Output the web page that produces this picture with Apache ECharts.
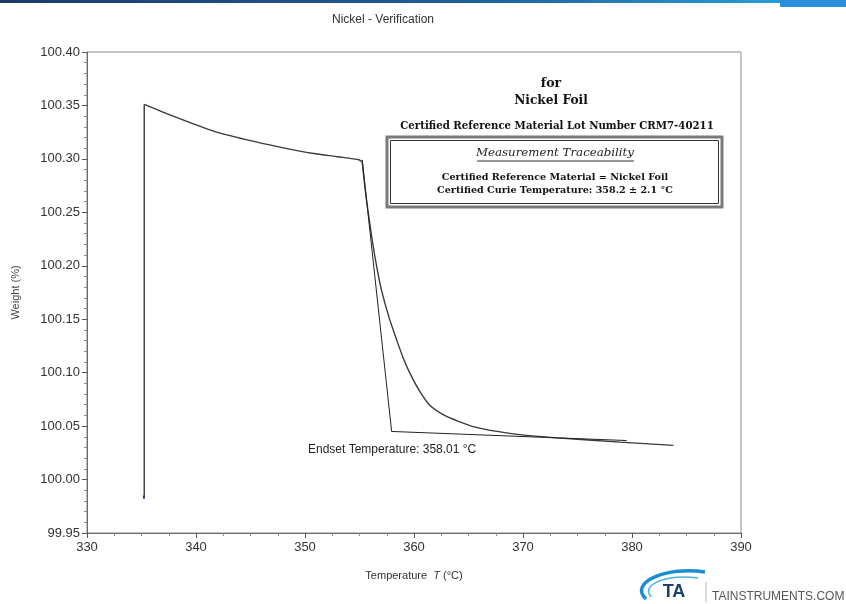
<!DOCTYPE html>
<html><head><meta charset="utf-8">
<script src="https://cdn.jsdelivr.net/npm/echarts@6/dist/echarts.min.js"></script>
<style>html,body{margin:0;padding:0;background:#fff}#c{width:846px;height:604px}</style>
</head><body><div id="c"></div>
<script>
// ---- data ----
const jumpTemp    = [335.25, 335.25];
const jumpWeight  = [99.983, 100.351];
const plateauTemp   = [335.25, 337.9, 341.6, 344.6, 347.7, 350.8, 353.0, 355.0, 355.25];
const plateauWeight = [100.351, 100.340, 100.326, 100.318, 100.311, 100.305, 100.302, 100.299, 100.297];
const dropTemp   = [355.25, 355.6, 356.2, 356.6, 357.0, 357.7, 358.4, 359.0, 359.6, 360.5, 361.5, 362.8, 364.2, 365.6, 367.0, 369.7, 373.1, 378.9, 383.8];
const dropWeight = [100.297, 100.265, 100.222, 100.198, 100.178, 100.152, 100.131, 100.114, 100.100, 100.083, 100.069, 100.060, 100.054, 100.049, 100.046, 100.042, 100.039, 100.035, 100.032];
const steepTemp = [355.25, 357.95];
const steepWeight = [100.299, 100.045];
const baseTemp = [357.95, 379.5];
const baseWeight = [100.045, 100.0365];
const startMarkTemp = [335.22, 335.22];
const startMarkWeight = [99.982, 99.985];
const xTicks = [330, 340, 350, 360, 370, 380, 390];
const yTicks = [99.95, 100.00, 100.05, 100.10, 100.15, 100.20, 100.25, 100.30, 100.35, 100.40];
const endsetLabel = 'Endset Temperature: 358.01 °C';

const zip = (a, b) => a.map((v, i) => [v, b[i]]);
const chart = echarts.init(document.getElementById('c'), null, {renderer: 'canvas'});
const serif = '"DejaVu Serif", "Liberation Serif", serif';
const sans = '"Liberation Sans", Arial, sans-serif';
const curveStyle = {color: '#3a3a3a', width: 1.4};

chart.setOption({
  backgroundColor: '#fff',
  animation: false,
  title: {text: 'Nickel - Verification', left: 378, top: 9, textAlign: 'center',
    textStyle: {fontFamily: sans, fontSize: 12, fontWeight: 'normal', color: '#333'}},
  grid: {left: 87, right: 105, top: 52, bottom: 71, show: true, borderColor: '#8a8a8a', borderWidth: 1},
  xAxis: {type: 'value', min: xTicks[0], max: xTicks[xTicks.length - 1], interval: 10,
    name: '{n|Temperature  }{i|T}{n| (°C)}', nameLocation: 'middle', nameGap: 37,
    nameTextStyle: {rich: {n: {fontFamily: sans, fontSize: 11, color: '#333'}, i: {fontFamily: sans, fontSize: 11, fontStyle: 'italic', color: '#333'}}},
    axisLine: {lineStyle: {color: '#6a6a6a'}},
    axisTick: {length: 5, lineStyle: {color: '#555'}},
    minorTick: {show: true, splitNumber: 4, length: 3, lineStyle: {color: '#888'}},
    axisLabel: {fontFamily: sans, fontSize: 13, color: '#333', margin: 8},
    splitLine: {show: false}},
  yAxis: {type: 'value', min: yTicks[0], max: yTicks[yTicks.length - 1], interval: 0.05,
    name: 'Weight (%)', nameLocation: 'middle', nameGap: 66,
    nameTextStyle: {fontFamily: sans, fontSize: 11, color: '#444'},
    axisLine: {show: true, lineStyle: {color: '#6a6a6a'}},
    axisTick: {show: true, length: 5, lineStyle: {color: '#555'}},
    minorTick: {show: true, splitNumber: 5, length: 3, lineStyle: {color: '#888'}},
    axisLabel: {fontFamily: sans, fontSize: 13, color: '#333', margin: 7, formatter: v => v.toFixed(2)},
    splitLine: {show: false}},
  series: [
    {type: 'line', data: zip(jumpTemp, jumpWeight), symbol: 'none', lineStyle: curveStyle},
    {type: 'line', data: zip(plateauTemp, plateauWeight), symbol: 'none', smooth: 0.25, lineStyle: curveStyle},
    {type: 'line', data: zip(dropTemp, dropWeight), symbol: 'none', smooth: 0.25, lineStyle: curveStyle},
    {type: 'line', data: zip(steepTemp, steepWeight), symbol: 'none', lineStyle: {color: '#222', width: 1}},
    {type: 'line', data: zip(baseTemp, baseWeight), symbol: 'none', lineStyle: {color: '#222', width: 1}},
    {type: 'line', data: zip(startMarkTemp, startMarkWeight), symbol: 'none', lineStyle: {color: '#2a3fb0', width: 2}}
  ],
  graphic: [
    // top banner
    {type: 'rect', shape: {x: 0, y: 0, width: 780, height: 3}, style: {fill: new echarts.graphic.LinearGradient(0, 0, 1, 0, [{offset: 0, color: '#1d3a6b'}, {offset: 0.6, color: '#1f5f99'}, {offset: 1, color: '#2a9ad6'}])}},
    {type: 'rect', shape: {x: 780, y: 0, width: 66, height: 7}, style: {fill: '#2a8fdc'}},
    // annotation block
    {type: 'text', style: {text: 'for', x: 551, y: 84, align: 'center', verticalAlign: 'middle', font: 'bold 12.5px ' + serif, fill: '#111'}},
    {type: 'text', style: {text: 'Nickel Foil', x: 551, y: 101, align: 'center', verticalAlign: 'middle', font: 'bold 12.2px ' + serif, fill: '#111'}},
    {type: 'text', style: {text: 'Certified Reference Material Lot Number CRM7-40211', x: 557, y: 126, align: 'center', verticalAlign: 'middle', font: 'bold 10.2px ' + serif, fill: '#111'}},
    {type: 'rect', shape: {x: 387, y: 137, width: 335, height: 70}, style: {fill: '#fff', stroke: '#7a7a7a', lineWidth: 3}},
    {type: 'rect', shape: {x: 390.5, y: 140.5, width: 328, height: 63}, style: {fill: 'none', stroke: '#333', lineWidth: 1}},
    {type: 'text', style: {text: 'Measurement Traceability', x: 555, y: 153, align: 'center', verticalAlign: 'middle', font: 'italic 11.8px ' + serif, fill: '#222'}},
    {type: 'line', shape: {x1: 477, y1: 161, x2: 634, y2: 161}, style: {stroke: '#333', lineWidth: 1}},
    {type: 'text', style: {text: 'Certified Reference Material = Nickel Foil', x: 555, y: 177, align: 'center', verticalAlign: 'middle', font: 'bold 9.6px ' + serif, fill: '#111'}},
    {type: 'text', style: {text: 'Certified Curie Temperature: 358.2 ± 2.1 °C', x: 555, y: 190, align: 'center', verticalAlign: 'middle', font: 'bold 9.6px ' + serif, fill: '#111'}},
    // endset label
    {type: 'text', style: {text: endsetLabel, x: 308, y: 450, align: 'left', verticalAlign: 'middle', font: '12px ' + sans, fill: '#222'}},
    // logo
    {type: 'bezierCurve', shape: {x1: 646, y1: 599, cpx1: 628, cpy1: 582, cpx2: 668, cpy2: 566, x2: 705, y2: 572}, style: {stroke: '#1a8fd0', lineWidth: 3.5, fill: 'none'}},
    {type: 'bezierCurve', shape: {x1: 651, y1: 597, cpx1: 640, cpy1: 584, cpx2: 668, cpy2: 574, x2: 698, y2: 578}, style: {stroke: '#46b4e6', lineWidth: 1.5, fill: 'none'}},
    {type: 'text', style: {text: 'TA', x: 674, y: 592, align: 'center', verticalAlign: 'middle', font: 'bold 18px ' + sans, fill: '#1b3f73'}},
    {type: 'line', shape: {x1: 706, y1: 582, x2: 706, y2: 603}, style: {stroke: '#bbb', lineWidth: 1}},
    {type: 'text', style: {text: 'TAINSTRUMENTS.COM', x: 712, y: 597, align: 'left', verticalAlign: 'middle', font: '12px ' + sans, fill: '#555'}}
  ]
});
</script></body></html>
